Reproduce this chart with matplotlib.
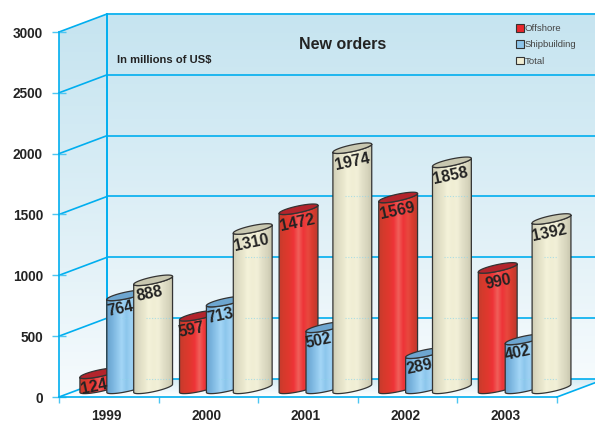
import numpy as np
import matplotlib
matplotlib.use("Agg")
import matplotlib.pyplot as plt
from matplotlib.colors import to_rgb
from matplotlib.patches import Patch, Polygon

years = ["1999", "2000", "2001", "2002", "2003"]
offshore = [124, 597, 1472, 1569, 990]
shipbuilding = [764, 713, 502, 289, 402]
total = [888, 1310, 1974, 1858, 1392]
y_ticks = [0, 500, 1000, 1500, 2000, 2500, 3000]

# label shift from the cylinder centre, in category units
offshore_shift = [-0.05, -0.07, -0.01, -0.01, 0.01]
shipbuilding_shift = [-0.06, -0.055, -0.07, -0.055, -0.065]
total_shift = [-0.04, -0.015, 0.0, -0.015, -0.02]

LINE = "#00aeef"
TEXT = "#232323"
DEPTH_X = 0.482
DEPTH_Y = 148
BAR_W = 0.39
BASE = 38
TILT = 33
MINOR = 28

SERIES = [
    ("Offshore", offshore, offshore_shift,
     ["#c63b2c", "#d63a2c", "#e0382e", "#ee3338", "#f0605a", "#ee3338", "#e8483e", "#d83a2e", "#bd3a2e"],
     "#b3242c", "#e8262c"),
    ("Shipbuilding", shipbuilding, shipbuilding_shift,
     ["#68a4d0", "#78b2dc", "#8cc4ea", "#a4d6f6", "#8cc6ec", "#a0d2f4", "#84bce4", "#76aed8", "#6ca4ce"],
     "#6ea6d0", "#8cc4ea"),
    ("Total", total, total_shift,
     ["#d0ceb6", "#dedcc4", "#e8e6cc", "#f4f2da", "#f0eed4", "#f2f0d8", "#e2e0c8", "#d8d6be", "#c8c6ae"],
     "#c8c7b0", "#f0eed4"),
]


def gradient(ax, extent, colors, vertical=False, clip=None, zorder=0):
    """Draw a colour ramp inside extent, optionally cut to a polygon"""
    pos = np.linspace(0, 1, len(colors))
    t = np.linspace(0, 1, 64)
    rgb = np.array([to_rgb(c) for c in colors])
    img = np.stack([np.interp(t, pos, rgb[:, k]) for k in range(3)], axis=-1)
    img = img[:, None, :] if vertical else img[None, :, :]
    im = ax.imshow(img, extent=extent, origin="upper", aspect="auto",
                   interpolation="bilinear", zorder=zorder)
    if clip is not None:
        patch = Polygon(clip, closed=True, transform=ax.transData,
                        facecolor="none", edgecolor="none")
        ax.add_patch(patch)
        im.set_clip_path(patch)
    im.set_clip_box(ax.figure.bbox)
    return im


def cylinder(ax, left, value, colors, top_color, zorder):
    """Tilted cylinder standing on the floor, value is its height"""
    right = left + BAR_W
    mid = left + BAR_W / 2
    t = np.linspace(np.pi, 2 * np.pi, 40)
    xs = mid + BAR_W / 2 * np.cos(t)
    low = BASE + TILT + TILT * np.cos(t) + MINOR * np.sin(t)
    high = low + value
    body = np.vstack([np.column_stack([xs, high]),
                      np.column_stack([xs[::-1], low[::-1]])])
    gradient(ax, (left, right, BASE - 60, BASE + value + 100), colors,
             clip=body, zorder=zorder)
    ax.add_patch(Polygon(body, closed=True, facecolor="none", edgecolor="#333333",
                         linewidth=0.9, zorder=zorder + 0.1, clip_on=False))
    t = np.linspace(0, 2 * np.pi, 80)
    xs = mid + BAR_W / 2 * np.cos(t)
    ys = BASE + value + TILT + TILT * np.cos(t) + MINOR * np.sin(t)
    ax.add_patch(Polygon(np.column_stack([xs, ys]), closed=True, facecolor=top_color,
                         edgecolor="#333333", linewidth=0.9, zorder=zorder + 0.2,
                         clip_on=False))
    # the grid shows through faintly as dots on the pale cylinders
    for y in y_ticks:
        level = y + DEPTH_Y
        if level < value and top_color != "#b3242c":
            ax.plot([left + 0.12, left + 0.37], [level, level], color="#8fd6ea", lw=0.8,
                    ls=(0, (1, 1.5)), alpha=0.7, zorder=zorder + 0.15)


def draw_walls(ax):
    right = 5 + DEPTH_X
    top = 3000 + DEPTH_Y
    wall = ["#c6e4f0", "#d4ebf4", "#e4f2f8", "#f6fbfd"]
    gradient(ax, (DEPTH_X, right, DEPTH_Y, top), wall, vertical=True)
    side = [(0, 0), (DEPTH_X, DEPTH_Y), (DEPTH_X, top), (0, 3000)]
    gradient(ax, (0, DEPTH_X, 0, top), wall, vertical=True, clip=side)
    floor = [(0, 0), (DEPTH_X, DEPTH_Y), (right, DEPTH_Y), (5, 0)]
    gradient(ax, (0, right, 0, DEPTH_Y), ["#d2eaf3", "#ffffff"], vertical=True, clip=floor)

    for y in y_ticks:
        ax.plot([0, DEPTH_X], [y, y + DEPTH_Y], color=LINE, lw=1.2, clip_on=False, zorder=1)
        ax.plot([DEPTH_X, right], [y + DEPTH_Y] * 2, color=LINE, lw=1.2, clip_on=False, zorder=1)
    ax.plot([DEPTH_X, DEPTH_X], [DEPTH_Y, top], color=LINE, lw=1.4, clip_on=False, zorder=1)
    ax.plot([5, right], [0, DEPTH_Y], color=LINE, lw=1.2, clip_on=False, zorder=1)


def main():
    plt.rcParams["font.family"] = ["Liberation Sans", "DejaVu Sans"]
    fig = plt.figure(figsize=(5.95, 4.23), dpi=100)
    ax = fig.add_axes([59 / 595, 26 / 423, 498 / 595, 365 / 423])
    ax.set_facecolor("none")

    draw_walls(ax)

    z = 3
    for j, (name, values, shifts, colors, top_color, _) in enumerate(SERIES):
        for i, value in enumerate(values):
            left = i + 0.21 + 0.27 * j
            cylinder(ax, left, value, colors, top_color, z)
            ax.text(left + BAR_W / 2 + shifts[i], value + BASE - 80, str(value), rotation=12,
                    ha="center", va="center", rotation_mode="anchor", fontsize=11.4,
                    fontweight="bold", color=TEXT, zorder=30)
            z += 1

    ax.set_xlim(0, 5)
    ax.set_ylim(0, 3000)
    for side in ("top", "right"):
        ax.spines[side].set_visible(False)
    for side in ("left", "bottom"):
        ax.spines[side].set_color(LINE)
        ax.spines[side].set_linewidth(1.2)

    ax.set_yticks(y_ticks)
    ax.set_xticks(range(6))
    ax.set_xticklabels([])
    ax.set_xticks([i + 0.48 for i in range(5)], labels=years, minor=True)
    ax.tick_params(axis="y", direction="inout", length=10, width=1.0, color="#4cc6f2",
                   pad=6.6, labelsize=9.8, labelcolor=TEXT)
    ax.tick_params(axis="x", which="major", direction="out", length=4.5, width=1.0, color="#4cc6f2")
    ax.tick_params(axis="x", which="minor", length=0, pad=8.5, labelsize=9.8, labelcolor=TEXT)
    for label in ax.get_yticklabels() + ax.get_xticklabels(minor=True):
        label.set_fontweight("bold")

    ax.text(2.85, 2901, "New orders", ha="center", va="center", fontsize=11.5,
            fontweight="bold", color=TEXT)
    ax.text(0.582, 2770, "In millions of US$", ha="left", va="center", fontsize=8.1,
            fontweight="bold", color=TEXT)

    handles = [Patch(facecolor=s[5], edgecolor="#333333", linewidth=0.8, label=s[0]) for s in SERIES]
    fig.legend(handles=handles, loc="upper left", bbox_to_anchor=(516 / 595, 1 - 24 / 423),
               frameon=False, fontsize=6.8, labelcolor="#444444", borderpad=0, borderaxespad=0,
               labelspacing=0.78, handlelength=0.85, handleheight=0.85, handletextpad=0.1)

    fig.savefig("out.png", dpi=100, facecolor="white")


if __name__ == "__main__":
    main()
